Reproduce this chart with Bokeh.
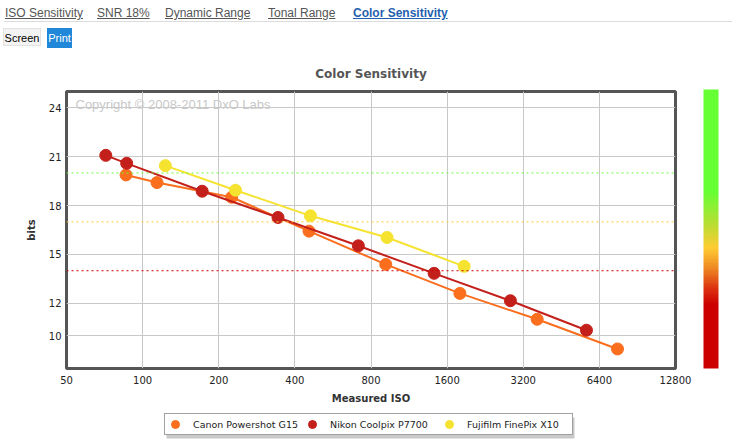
import numpy as np
from bokeh.plotting import figure
from bokeh.models import (Div, Label, Span, Legend, LegendItem, FixedTicker,
                          ColorBar, LinearColorMapper, Range1d, BoxAnnotation)
from bokeh.layouts import column
from bokeh.embed import file_html
from bokeh.resources import INLINE

# ---------------- data ----------------
canon_iso = [86, 114, 225, 455, 915, 1797, 3632, 7549]
canon_bits = [19.88, 19.41, 18.51, 16.43, 14.39, 12.61, 11.02, 9.20]
nikon_iso = [71.5, 86.5, 172, 343, 713, 1421, 2847, 5690]
nikon_bits = [21.08, 20.59, 18.88, 17.27, 15.53, 13.84, 12.16, 10.35]
fuji_iso = [123, 233, 461, 926, 1868]
fuji_bits = [20.45, 18.94, 17.37, 16.04, 14.27]

series_names = ["Canon Powershot G15", "Nikon Coolpix P7700", "Fujifilm FinePix X10"]
series_colors = ["#fa6e1e", "#c4201b", "#f5e330"]

x_ticks = [50, 100, 200, 400, 800, 1600, 3200, 6400, 12800]
x_tick_labels = ["50", "100", "200", "400", "800", "1600", "3200", "6400", "12800"]
y_ticks = [10, 12, 15, 18, 21, 24]
y_tick_labels = ["10", "12", "15", "18", "21", "24"]

ref_levels = [20, 17, 14]
ref_labels = ["20", "17", "14"]
ref_colors = ["#66ff33", "#ffcc33", "#cc0000"]

tabs = ["ISO Sensitivity", "SNR 18%", "Dynamic Range", "Tonal Range", "Color Sensitivity"]

# ---------------- header ----------------
tab_left = [0, 92, 160, 263, 348]
tab_html = ""
for i, t in enumerate(tabs):
    active = (i == len(tabs) - 1)
    color = "#1f5fae" if active else "#555555"
    weight = "bold" if active else "normal"
    tab_html += (f'<span style="position:absolute;left:{tab_left[i]}px;top:0px;font-size:12px;'
                 f'color:{color};font-weight:{weight};text-decoration:underline;white-space:nowrap;">{t}</span>')

header_html = f"""
<div style="position:relative;width:727px;height:44px;font-family:'Liberation Sans',Arial,sans-serif;overflow:visible;">
{tab_html}
<div style="position:absolute;left:-1px;top:16px;width:728px;height:1px;background:#dcdcdc;"></div>
<div style="position:absolute;left:-2px;top:23px;width:38px;height:18px;background:#f3f3f3;border:1px solid #e2e2e2;
font-size:11px;line-height:18px;text-align:center;color:#000;">Screen</div>
<div style="position:absolute;left:42px;top:23px;width:25px;height:20px;background:#2187d8;color:#fff;
font-size:11px;line-height:20px;text-align:center;">Print</div>
</div>
"""
header = Div(text=header_html, width=727, height=44)

# ---------------- main figure ----------------
FW, FH = 609, 277
p = figure(x_axis_type="log", x_range=Range1d(50, 12800), y_range=Range1d(8, 25),
           frame_width=FW, frame_height=FH,
           min_border_left=66, min_border_right=52, min_border_top=36, min_border_bottom=40,
           toolbar_location=None, output_backend="svg",
           title="Color Sensitivity")

p.title.align = "center"
p.title.text_font = "DejaVu Sans"
p.title.text_font_size = "12px"
p.title.text_font_style = "bold"
p.title.text_color = "#555555"
p.title.standoff = 21

p.background_fill_color = "white"
p.border_fill_color = "white"
p.outline_line_color = "#555555"
p.outline_line_width = 3

p.xaxis.ticker = FixedTicker(ticks=x_ticks)
p.xaxis.major_label_overrides = {t: l for t, l in zip(x_ticks, x_tick_labels)}
p.yaxis.ticker = FixedTicker(ticks=y_ticks)
p.yaxis.major_label_overrides = {t: l for t, l in zip(y_ticks, y_tick_labels)}
p.xgrid.ticker = FixedTicker(ticks=x_ticks)
p.ygrid.ticker = FixedTicker(ticks=y_ticks)

for ax in (p.xaxis, p.yaxis):
    ax.axis_line_color = None
    ax.major_tick_line_color = None
    ax.minor_tick_line_color = None
    ax.major_tick_out = 0
    ax.major_tick_in = 0
    ax.minor_tick_out = 0
    ax.minor_tick_in = 0
    ax.major_label_text_font = "DejaVu Sans"
    ax.major_label_text_font_size = "10px"
    ax.major_label_text_color = "#222222"
    ax.axis_label_text_font = "DejaVu Sans"
    ax.axis_label_text_font_size = "10px"
    ax.axis_label_text_font_style = "bold"
    ax.axis_label_text_color = "#333333"

p.xaxis.axis_label = "Measured ISO"
p.yaxis.axis_label = "bits"
p.xaxis.major_label_standoff = 7
p.xaxis.axis_label_standoff = 6
p.yaxis.major_label_standoff = 5
p.yaxis.axis_label_standoff = 9

p.grid.grid_line_color = "#c8c8c8"
p.grid.grid_line_width = 1

# reference dotted lines and labels
for lv, lb, c in zip(ref_levels, ref_labels, ref_colors):
    p.add_layout(Span(location=lv, dimension="width", line_color=c, line_dash="2 3", line_width=1))
    p.add_layout(Label(x=FW + 5, y=lv, x_units="screen", y_units="data", text=lb,
                       text_color=c, text_font="DejaVu Sans", text_font_size="10px",
                       text_baseline="middle", text_align="left"))

p.add_layout(Label(x=9, y=FH - 13, x_units="screen", y_units="screen",
                   text="Copyright \u00a9 2008-2011 DxO Labs", text_color="#c8c8c8",
                   text_font="Liberation Sans", text_font_size="13px",
                   text_baseline="middle", text_align="left"))

# series
data = [(canon_iso, canon_bits), (nikon_iso, nikon_bits), (fuji_iso, fuji_bits)]
for (xs, ys), c in zip(data, series_colors):
    p.line(xs, ys, line_color=c, line_width=2)
    p.scatter(xs, ys, size=12, fill_color=c, line_color=c)

# gradient colour bar on the right
stops = [(0.0, "#cc0000"), (0.227, "#cc0000"), (0.287, "#dd3311"), (0.359, "#ee8822"),
         (0.431, "#ffcc33"), (0.514, "#bbdd33"), (0.634, "#66ff33"), (1.0, "#66ff33")]
def hex2rgb(h):
    return np.array([int(h[i:i + 2], 16) for i in (1, 3, 5)], dtype=float)
fr = np.array([s[0] for s in stops])
rgb = np.array([hex2rgb(s[1]) for s in stops])
pos = np.linspace(0, 1, 200)
pal = []
for t in pos:
    col = [np.interp(t, fr, rgb[:, k]) for k in range(3)]
    pal.append("#%02x%02x%02x" % tuple(int(round(v)) for v in col))

cb = ColorBar(color_mapper=LinearColorMapper(palette=pal, low=0, high=1),
              location=(637, 0), width=15, height=279, padding=0, margin=0,
              ticker=FixedTicker(ticks=[]), major_label_text_font_size="0px",
              major_tick_line_color=None, minor_tick_line_color=None,
              bar_line_color=None, border_line_color=None, background_fill_color=None)
p.add_layout(cb)

# ---------------- legend strip ----------------
lg = figure(width=727, height=31, x_range=Range1d(0, 1), y_range=Range1d(0, 1),
            min_border=0, toolbar_location=None, output_backend="svg")
lg.axis.visible = False
lg.grid.visible = False
lg.outline_line_color = None
lg.background_fill_color = "white"
lg.border_fill_color = "white"
leg_renderers = []
for (xs, ys), c in zip(data, series_colors):
    leg_renderers.append(lg.scatter(xs, ys, size=12, fill_color=c, line_color=c))

LX, LY, LW, LH = 98, 4, 407, 20
shadow = BoxAnnotation(left=LX + 2, right=LX + LW + 3, bottom=LY - 3, top=LY + LH - 2,
                       left_units="screen", right_units="screen",
                       bottom_units="screen", top_units="screen",
                       fill_color="#888888", fill_alpha=0.45, line_color=None)
lg.add_layout(shadow)

legend = Legend(items=[LegendItem(label=n, renderers=[r]) for n, r in zip(series_names, leg_renderers)],
                orientation="horizontal", location=(LX, LY),
                glyph_width=20, glyph_height=20, label_standoff=8, spacing=4, padding=0,
                label_width=105, label_height=20,
                label_text_font="DejaVu Sans", label_text_font_size="9.5px", label_text_color="#222222",
                border_line_color="#444444", border_line_width=1, margin=0,
                background_fill_color="white", background_fill_alpha=1.0)
lg.add_layout(legend)

layout = column(header, p, lg, spacing=0)
open("out.html", "w").write(file_html(layout, INLINE))
